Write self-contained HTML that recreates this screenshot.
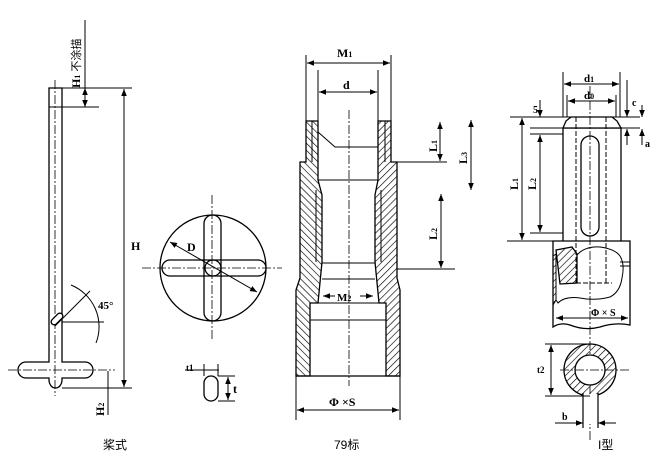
<!DOCTYPE html>
<html><head><meta charset="utf-8"><style>
html,body{margin:0;padding:0;background:#fff;}
svg{display:block;}
text{font-family:"Liberation Serif","Noto Serif CJK SC",serif;font-weight:bold;fill:#000;}
.cn{font-family:"Liberation Sans","Noto Sans CJK SC",sans-serif;font-weight:normal;}
</style></head><body>
<svg width="662" height="457" viewBox="0 0 662 457" xmlns="http://www.w3.org/2000/svg">
<defs>
<marker id="a" viewBox="0 0 10 10" refX="10" refY="5" markerWidth="7" markerHeight="7" orient="auto-start-reverse"><path d="M0,1 L10,5 L0,9z" fill="#000"/></marker>
<pattern id="h" width="5" height="5" patternUnits="userSpaceOnUse" patternTransform="rotate(45)"><line x1="0" y1="0" x2="0" y2="5" stroke="#000" stroke-width="1.3"/></pattern>
<pattern id="h2" width="5" height="5" patternUnits="userSpaceOnUse" patternTransform="rotate(-45)"><line x1="0" y1="0" x2="0" y2="5" stroke="#000" stroke-width="1.3"/></pattern>
</defs>
<g stroke="#000" fill="none" stroke-width="1.3">
<!-- LEFT: paddle -->
<path d="M49,88 H62 V362 H85 a8,8 0 0 1 0,16 H62 V380 a6.5,8 0 0 1 -13,0 V378 H26 a8,8 0 0 1 0,-16 H49 Z" fill="#fff"/>
<line x1="49" y1="107" x2="99" y2="107" stroke-width="1"/>
<line x1="55" y1="80" x2="55" y2="396" stroke-width=".8" stroke-dasharray="9,2,2,2"/>
<line x1="8" y1="370" x2="115" y2="370" stroke-width=".8" stroke-dasharray="9,2,2,2"/>
<line x1="85" y1="20" x2="85" y2="107" stroke-width="1"/>
<line x1="85" y1="95" x2="85" y2="88" stroke-width="1" marker-end="url(#a)"/>
<line x1="85" y1="100" x2="85" y2="107" stroke-width="1" marker-end="url(#a)"/>
<line x1="62" y1="88" x2="132" y2="88" stroke-width="1"/>
<line x1="62" y1="388" x2="132" y2="388" stroke-width="1"/>
<line x1="124" y1="89" x2="124" y2="387" stroke-width="1" marker-start="url(#a)" marker-end="url(#a)"/>
<line x1="108" y1="371" x2="108" y2="415" stroke-width="1"/>
<rect x="50" y="316" width="14" height="6" rx="3" transform="rotate(-45 57 319)" fill="#fff"/>
<line x1="62" y1="322" x2="104" y2="322" stroke-width="1"/>
<line x1="55" y1="326" x2="90" y2="291" stroke-width="1"/>
<path d="M71,285 A45,45 0 0 1 96,343" stroke-width="1"/>
<!-- circle top view -->
<circle cx="213" cy="268" r="53"/>
<rect x="162" y="260" width="104" height="16" rx="8" fill="#fff"/>
<rect x="204" y="215" width="17" height="106" rx="8.5" fill="none"/>
<circle cx="213" cy="268" r="8"/>
<line x1="142" y1="268" x2="282" y2="268" stroke-width=".8" stroke-dasharray="9,2,2,2"/>
<line x1="212" y1="195" x2="212" y2="340" stroke-width=".8" stroke-dasharray="9,2,2,2"/>
<line x1="170" y1="242" x2="257" y2="292" stroke-width="1" marker-start="url(#a)" marker-end="url(#a)"/>
<!-- t slot -->
<rect x="204" y="376" width="14" height="25" rx="7"/>
<line x1="185" y1="370" x2="219" y2="370" stroke-width="1"/>
<line x1="204" y1="364" x2="204" y2="376" stroke-width="1"/>
<line x1="218" y1="364" x2="218" y2="376" stroke-width="1"/>
<line x1="218" y1="376" x2="235" y2="376" stroke-width="1"/>
<line x1="218" y1="401" x2="235" y2="401" stroke-width="1"/>
<line x1="228" y1="377" x2="228" y2="400" stroke-width="1" marker-start="url(#a)" marker-end="url(#a)"/>

<!-- MIDDLE: 79 -->
<path d="M306,121 H318 V180 L322,195 V262 L318,303 H310 V376 H296 V290 L300,278 V162 H306 Z" fill="url(#h2)"/>
<path d="M391,121 H378 V180 L375,195 V262 L379,303 H386 V376 H400 V290 L397,278 V162 H391 Z" fill="url(#h)"/>
<g stroke-width="1">
<line x1="312" y1="121" x2="312" y2="162"/><line x1="385" y1="121" x2="385" y2="162"/>
<line x1="316" y1="190" x2="316" y2="262"/><line x1="381" y1="190" x2="381" y2="262"/>
</g>
<line x1="318" y1="180" x2="378" y2="180" stroke-width="1"/>
<path d="M318,132 L335,147 H378" stroke-width="1"/>
<path d="M322,263 H375 M322,279 H375 M318,303 H379 M310,320 H386" stroke-width="1"/>
<line x1="349" y1="110" x2="349" y2="386" stroke-width=".8" stroke-dasharray="9,2,2,2"/>
<line x1="306" y1="55" x2="306" y2="121" stroke-width="1"/><line x1="391" y1="55" x2="391" y2="121" stroke-width="1"/>
<line x1="307" y1="63" x2="390" y2="63" stroke-width="1" marker-start="url(#a)" marker-end="url(#a)"/>
<line x1="318" y1="70" x2="318" y2="121" stroke-width="1"/><line x1="378" y1="70" x2="378" y2="121" stroke-width="1"/>
<line x1="319" y1="92" x2="377" y2="92" stroke-width="1" marker-start="url(#a)" marker-end="url(#a)"/>
<line x1="323" y1="296" x2="335" y2="296" stroke-width="1" marker-start="url(#a)"/>
<line x1="360" y1="296" x2="373" y2="296" stroke-width="1" marker-end="url(#a)"/>
<line x1="296" y1="376" x2="296" y2="420" stroke-width="1"/><line x1="400" y1="376" x2="400" y2="420" stroke-width="1"/>
<line x1="296" y1="376" x2="400" y2="376"/>
<line x1="297" y1="410" x2="399" y2="410" stroke-width="1" marker-start="url(#a)" marker-end="url(#a)"/>
<line x1="397" y1="162" x2="447" y2="162" stroke-width="1"/>
<line x1="397" y1="269" x2="455" y2="269" stroke-width="1"/>
<line x1="440" y1="122" x2="440" y2="161" stroke-width="1" marker-start="url(#a)" marker-end="url(#a)"/>
<line x1="471" y1="120" x2="471" y2="190" stroke-width="1" marker-start="url(#a)" marker-end="url(#a)"/>
<line x1="441" y1="194" x2="441" y2="268" stroke-width="1" marker-start="url(#a)" marker-end="url(#a)"/>

<!-- RIGHT: I type -->
<path d="M563,241 V128 H621 V241" fill="#fff"/>
<path d="M563,128 L566,121 L571,117 H612 L617,121 L621,128 Z" fill="#fff"/>
<rect x="581" y="136" width="18" height="100" rx="9"/>
<line x1="576" y1="117" x2="576" y2="283" stroke-width="1" stroke-dasharray="5,2"/>
<line x1="606" y1="117" x2="606" y2="283" stroke-width="1" stroke-dasharray="5,2"/>
<path d="M553,241 H630 V325 Q615,322 600,327 Q585,331 570,325 Q560,322 553,327 Z"/>
<path d="M556,250 L572,247 L577,254 V283 L560,284 Z" fill="url(#h)"/>
<path d="M577,255 Q585,246 600,247 Q615,249 620,256 Q625,264 622,278 Q620,292 610,297 Q595,301 580,298 Q565,296 558,303 L556,300" stroke-width="1"/>
<path d="M553,256 L556,254 V300 L553,305" fill="url(#h)" stroke-width="1"/>
<line x1="620" y1="262" x2="630" y2="262" stroke-width="1"/><line x1="620" y1="266" x2="630" y2="266" stroke-width="1"/>
<line x1="576" y1="283" x2="612" y2="283" stroke-width="1" stroke-dasharray="5,2"/>
<line x1="556" y1="318" x2="628" y2="318" stroke-width="1" marker-start="url(#a)" marker-end="url(#a)"/>
<line x1="590" y1="86" x2="590" y2="440" stroke-width=".8" stroke-dasharray="9,2,2,2"/>
<line x1="563" y1="72" x2="563" y2="117" stroke-width="1"/><line x1="620" y1="72" x2="620" y2="117" stroke-width="1"/>
<line x1="564" y1="84" x2="619" y2="84" stroke-width="1" marker-start="url(#a)" marker-end="url(#a)"/>
<line x1="567" y1="95" x2="567" y2="117" stroke-width="1"/><line x1="616" y1="95" x2="616" y2="117" stroke-width="1"/>
<line x1="568" y1="101" x2="615" y2="101" stroke-width="1" marker-start="url(#a)" marker-end="url(#a)"/>
<line x1="510" y1="117" x2="640" y2="117" stroke-width="1"/>
<line x1="530" y1="128" x2="640" y2="128" stroke-width="1"/>
<line x1="530" y1="134" x2="563" y2="134" stroke-width="1"/>
<line x1="507" y1="241" x2="563" y2="241" stroke-width="1"/>
<line x1="530" y1="233" x2="563" y2="233" stroke-width="1"/>
<line x1="522" y1="118" x2="522" y2="240" stroke-width="1" marker-start="url(#a)" marker-end="url(#a)"/>
<line x1="540" y1="135" x2="540" y2="232" stroke-width="1" marker-start="url(#a)" marker-end="url(#a)"/>
<line x1="540" y1="100" x2="540" y2="117" stroke-width="1" marker-end="url(#a)"/>
<line x1="627" y1="80" x2="627" y2="117" stroke-width="1" marker-end="url(#a)"/>
<line x1="642" y1="105" x2="642" y2="117" stroke-width="1" marker-end="url(#a)"/>
<line x1="627" y1="145" x2="627" y2="129" stroke-width="1" marker-end="url(#a)"/>
<line x1="642" y1="145" x2="642" y2="129" stroke-width="1" marker-end="url(#a)"/>
<!-- ring -->
<circle cx="590" cy="370" r="26" fill="url(#h)"/>
<circle cx="590" cy="370" r="15" fill="#fff"/>
<rect x="583" y="394" width="15" height="30" fill="#fff" stroke="none"/>
<line x1="583" y1="393" x2="583" y2="428" stroke-width="1.2"/>
<line x1="598" y1="393" x2="598" y2="428" stroke-width="1.2"/>
<line x1="560" y1="370" x2="630" y2="370" stroke-width=".8" stroke-dasharray="9,2,2,2"/>
<line x1="545" y1="344" x2="590" y2="344" stroke-width="1"/>
<line x1="545" y1="396" x2="590" y2="396" stroke-width="1"/>
<line x1="551" y1="345" x2="551" y2="395" stroke-width="1" marker-start="url(#a)" marker-end="url(#a)"/>
<line x1="555" y1="423" x2="583" y2="423" stroke-width="1" marker-end="url(#a)"/>
<line x1="616" y1="423" x2="598" y2="423" stroke-width="1" marker-end="url(#a)"/>
</g>
<!-- text -->
<text x="0" y="0" font-size="12" transform="translate(80,88) rotate(-90)">H<tspan font-size="8">1</tspan><tspan class="cn" font-size="11" font-weight="bold"> 不涂描</tspan></text>
<text x="131" y="250" font-size="12">H</text>
<text x="98" y="309" font-size="11">45°</text>
<text x="0" y="0" font-size="12" transform="translate(104,416) rotate(-90)">H<tspan font-size="8">2</tspan></text>
<text x="187" y="251" font-size="12">D</text>
<text x="186" y="371" font-size="9">t1</text>
<text x="233" y="393" font-size="12">t</text>
<text class="cn" x="103" y="449" font-size="12">桨式</text>
<text x="337" y="57" font-size="12">M<tspan font-size="8">1</tspan></text>
<text x="343" y="89" font-size="12">d</text>
<text x="337" y="301" font-size="11">M<tspan font-size="8">2</tspan></text>
<text x="329" y="406" font-size="12">Φ ×S</text>
<text x="0" y="0" font-size="12" transform="translate(437,152) rotate(-90)">L<tspan font-size="8">1</tspan></text>
<text x="0" y="0" font-size="12" transform="translate(467,164) rotate(-90)">L<tspan font-size="8">3</tspan></text>
<text x="0" y="0" font-size="12" transform="translate(437,240) rotate(-90)">L<tspan font-size="8">2</tspan></text>
<text class="cn" x="334" y="449" font-size="12">79标</text>
<text x="584" y="82" font-size="11">d<tspan font-size="8">1</tspan></text>
<text x="584" y="99" font-size="11">d<tspan font-size="8">0</tspan></text>
<text x="533" y="113" font-size="10">5</text>
<text x="632" y="106" font-size="10">c</text>
<text x="645" y="147" font-size="10">a</text>
<text x="0" y="0" font-size="12" transform="translate(518,190) rotate(-90)">L<tspan font-size="8">1</tspan></text>
<text x="0" y="0" font-size="12" transform="translate(536,190) rotate(-90)">L<tspan font-size="8">2</tspan></text>
<text x="591" y="316" font-size="10">Φ × S</text>
<text x="537" y="373" font-size="9">t2</text>
<text x="562" y="420" font-size="10">b</text>
<text class="cn" x="598" y="449" font-size="12">I型</text>
</svg>
</body></html>
